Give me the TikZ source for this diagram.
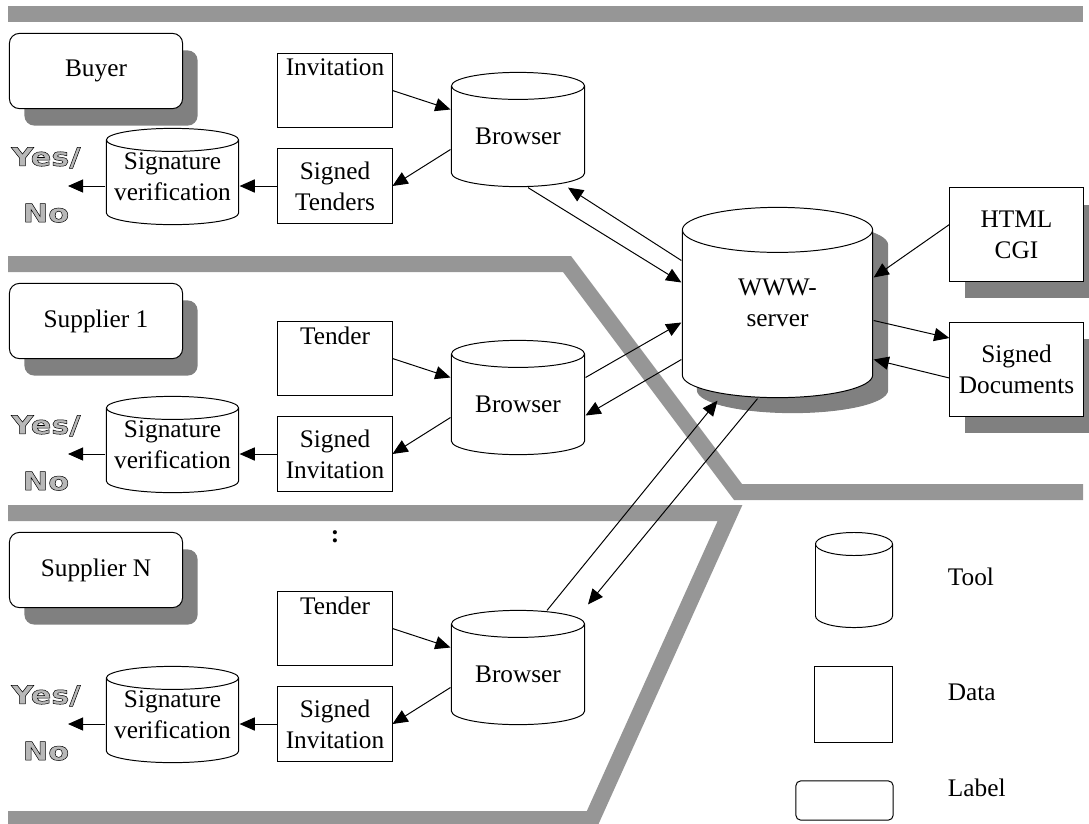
\documentclass[tikz,border=0pt]{standalone}
\usepackage{fontspec}
\setmainfont{Liberation Serif}
\newfontfamily\ynfont[FakeBold=2,FakeStretch=1.2]{DejaVu Sans Bold}
\usepackage{tikz}
\usetikzlibrary{calc,shapes.geometric,arrows.meta,shadows}
\usepackage{xcolor}
\definecolor{band}{HTML}{969696}
\definecolor{shade}{HTML}{808080}
\tikzset{
    every node/.style={font=\fontsize{18}{22}\selectfont,inner sep=1pt,align=center},
    cylfill/.store in=\cylfill,cylfill=white,
    cyldraw/.store in=\cyldraw,cyldraw=black,
    box/.style={draw,fill=white,minimum width=2.85cm,minimum height=1.86cm},
    cyl/.style={minimum width=3.35cm,minimum height=2.88cm,path picture={
        \draw[fill=\cylfill,draw=\cyldraw] let \p1=(path picture bounding box.north west),\p2=(path picture bounding box.south east),\n1={(\x2-\x1)/2-0.35pt} in
            (\x1+0.35pt,\y1-#1) -- (\x1+0.35pt,\y2+#1) arc[start angle=180,end angle=360,x radius=\n1,y radius=#1-0.35pt] -- (\x2-0.35pt,\y1-#1)
            ({(\x1+\x2)/2},\y1-#1) ellipse[x radius=\n1,y radius=#1-0.35pt];
    }},
    tag/.style={draw,fill=white,rounded corners=0.25cm,minimum width=4.33cm,minimum height=1.88cm},
    shd/.style={general shadow={fill=shade,shadow xshift=0.375cm,shadow yshift=-0.425cm}},
    yn/.style={font=\ynfont\fontsize{18}{40}\selectfont,inner sep=0pt},
    arr/.style={-{Triangle[length=0.38cm,width=0.33cm]}}
}

\begin{document}
\begin{tikzpicture}[x=0.025cm,y=-0.025cm,line width=0.7pt]
        \useasboundingbox (0,0) rectangle (1089,823);
        \draw[band,line width=0.4cm] (8,14)--(1083,14);
        \draw[band,line width=0.4cm] (8,264)--(567,264)--(738,492)--(1083,492);
        \draw[band,line width=0.4cm] (8,513)--(730,513)--(592,819)--(8,819);
        \foreach \i/\dy/\ly/\who/\dat/\sgn in {1/0/0/Buyer/Invitation/{Signed\\Tenders},2/268/250/Supplier 1/Tender/{Signed\\Invitation},3/538/499/Supplier N/Tender/{Signed\\Invitation}}{
            \node[tag,shd] (lab\i) at (96,{71+\ly}) {\who};
            \node[box,label={[anchor=north,yshift=-3pt]north:\dat}] (dat\i) at (335,{90.5+\dy}) {};
            \node[cyl=0.35cm,text height=22pt,text depth=0pt] (brw\i) at (518,{129.5+\dy}) {Browser};
            \node[box] (sgn\i) at (335,{186+\dy}) {\sgn};
            \node[cyl=0.3cm,minimum width=3.33cm,minimum height=2.43cm] (ver\i) at (172.5,{176.5+\dy}) {Signature\\verification};
            \node[yn] (yn\i) at (46,{185+\dy}) {\special{pdf:bcolor [0.72] [0]}Yes/\\No\special{pdf:ecolor}};
            \draw[arr] (dat\i.east) -- ($(brw\i.west)+(0,-20)$);
            \draw[arr] ($(brw\i.west)+(0,20)$) -- (sgn\i.east);
            \draw[arr] (sgn\i.west) -- (sgn\i.west -| ver\i.east);
            \draw[arr] (sgn\i.west -| ver\i.west) -- ([xshift=0.55cm]yn\i.center |- sgn\i.west);
        }
        \node (dots) at (335,537) {\textbf{:}};
        \node[cyl=0.575cm,cylfill=shade,cyldraw=shade,minimum width=4.78cm,minimum height=4.78cm] (srvs) at (792.5,317.5) {};
        \node[cyl=0.575cm,minimum width=4.78cm,minimum height=4.78cm] (srv) at (777.5,302.5) {WWW-\\server};
        \node[box,shd,minimum width=3.33cm,minimum height=2.33cm] (cgi) at (1016.5,234.5) {HTML\\CGI};
        \node[box,shd,minimum width=3.33cm,minimum height=2.35cm] (doc) at (1016.5,369) {Signed\\Documents};
        \draw[arr] ($(brw1.south)+(10,0)$) -- ($(srv.west)+(0,-20)$);
        \draw[arr] ($(srv.west)+(0,-42)$) -- ($(brw1.south)+(50,0)$);
        \draw[arr] ($(brw2.east)+(0,-20)$) -- ($(srv.west)+(0,20)$);
        \draw[arr] ($(srv.west)+(0,57)$) -- ($(brw2.east)+(0,18)$);
        \draw[arr] ($(brw3.north)+(29,1)$) -- ($(srv.south)+(-60,2)$);
        \draw[arr] ($(srv.south)+(-20,0)$) -- ($(brw3.north)+(70,-5)$);
        \draw[arr] ($(cgi.west)+(0,-10)$) -- ($(srv.east)+(0,-25)$);
        \draw[arr] ($(srv.east)+(0,18)$) -- ($(doc.west)+(0,-31)$);
        \draw[arr] ($(doc.west)+(0,9)$) -- ($(srv.east)+(0,57)$);
        \node[cyl=0.3cm,minimum width=1.95cm,minimum height=2.4cm] (ktool) at (854,580) {};
        \node[box,minimum width=1.93cm,minimum height=1.88cm] (kdata) at (853.5,704.5) {};
        \node[tag,rounded corners=0.12cm,minimum width=2.43cm,minimum height=0.98cm] (klabel) at (844.5,800.5) {};
        \node[anchor=west] (ttool) at (946,577) {Tool};
        \node[anchor=west] (tdata) at (946,692) {Data};
        \node[anchor=west] (tlabel) at (946,788) {Label};
    \end{tikzpicture}
\end{document}
